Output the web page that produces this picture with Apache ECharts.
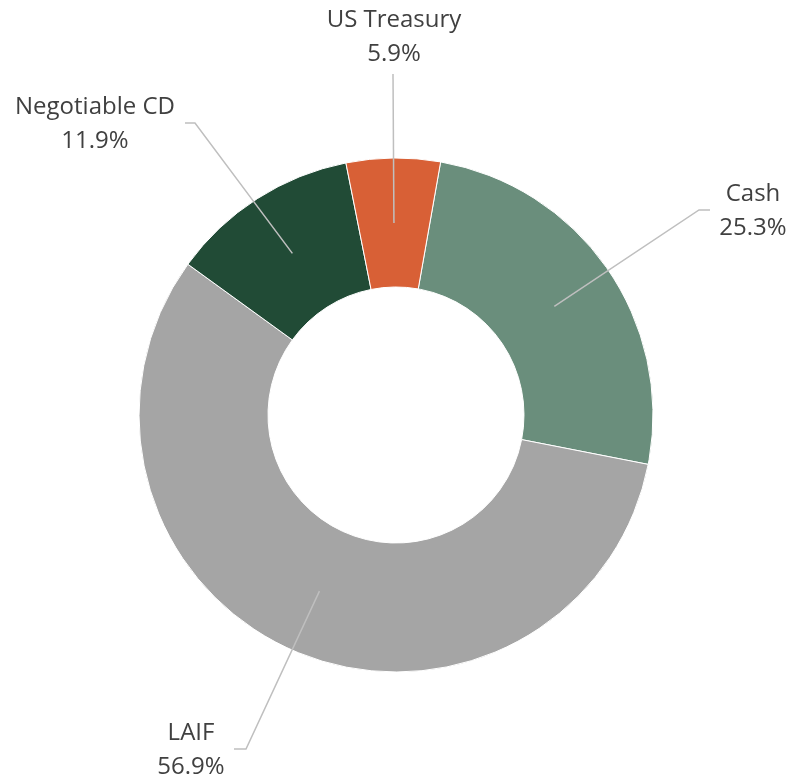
<!DOCTYPE html>
<html>
<head>
<meta charset="utf-8">
<script src="https://cdn.jsdelivr.net/npm/echarts@6/dist/echarts.min.js"></script>
<style>
  html, body { margin: 0; padding: 0; background: #fff; }
  #chart { width: 792px; height: 784px; }
</style>
</head>
<body>
<div id="chart"></div>
<script>
// data
const categories = ["Cash", "LAIF", "Negotiable CD", "US Treasury"];
const shares = [25.3, 56.9, 11.9, 5.9];
const sliceColors = ["#6A8E7C", "#A5A5A5", "#214B36", "#D86036"];

// where each label sits and how its leader line bends
const labelSpots = [
  { x: 753, y: 211, elbow: [699, 210], end: [710, 210] },
  { x: 191, y: 750, elbow: [246, 749], end: [234, 749] },
  { x: 95, y: 124, elbow: [195, 123], end: [185, 123] },
  { x: 394, y: 37, elbow: [393, 74], end: [393, 74] },
];

const pieData = categories.map((name, i) => ({
  name: name,
  value: shares[i],
  itemStyle: { color: sliceColors[i] },
}));

const chart = echarts.init(document.getElementById("chart"));

const option = {
  animation: false,
  series: [
    {
      // the ring itself
      type: "pie",
      z: 1,
      center: [396, 415],
      radius: [128, 257],
      startAngle: 80,
      clockwise: true,
      silent: true,
      itemStyle: { borderColor: "#fff", borderWidth: 1 },
      label: { show: false },
      labelLine: { show: false },
      data: pieData,
    },
    {
      // invisible pie, only there so leader lines start mid-ring
      type: "pie",
      z: 5,
      center: [396, 415],
      radius: [0, 192],
      startAngle: 80,
      clockwise: true,
      silent: true,
      avoidLabelOverlap: false,
      itemStyle: { color: "rgba(0,0,0,0)", borderWidth: 0 },
      label: {
        show: true,
        position: "outside",
        formatter: (p) => p.name + "\n" + p.value.toFixed(1) + "%",
        fontFamily: "Open Sans",
        fontSize: 24,
        lineHeight: 34,
        color: "#404040",
        align: "center",
      },
      labelLine: {
        show: true,
        lineStyle: { color: "#BFBFBF", width: 1.5 },
      },
      labelLayout: (params) => {
        const s = labelSpots[params.dataIndex];
        const start = params.labelLinePoints ? params.labelLinePoints[0] : s.elbow;
        return {
          x: s.x,
          y: s.y,
          align: "center",
          verticalAlign: "middle",
          labelLinePoints: [start, s.elbow, s.end],
        };
      },
      data: pieData.map((d) => ({ name: d.name, value: d.value })),
    },
  ],
};

chart.setOption(option);
</script>
</body>
</html>
